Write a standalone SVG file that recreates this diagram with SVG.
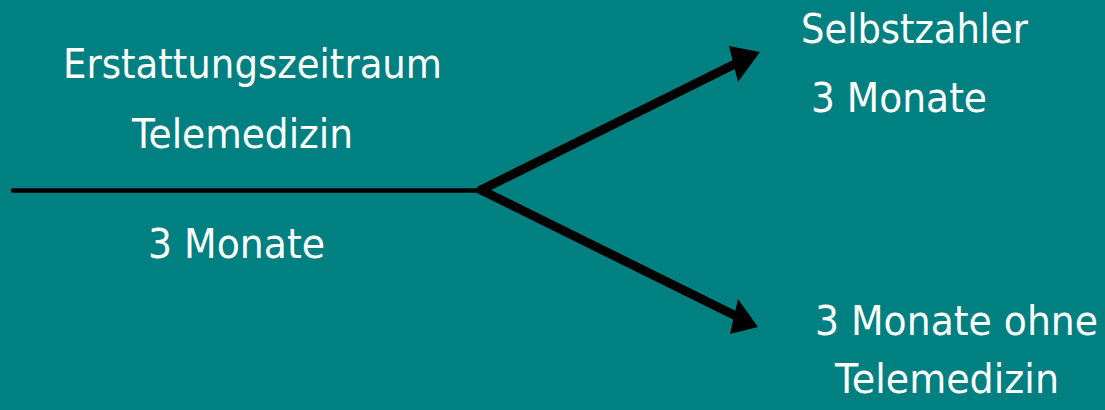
<svg xmlns="http://www.w3.org/2000/svg" width="1105" height="410" viewBox="0 0 1105 410">
<style>
.t{font-family:"DejaVu Sans","Liberation Sans",sans-serif;font-size:40px;fill:#ffffff}
.ln{stroke:#000;fill:none;stroke-linecap:round}
.hd{fill:#000}
</style>
<rect width="1105" height="410" fill="#008080"/>
<g id="source">
<text class="t" x="63" y="78" textLength="379" lengthAdjust="spacingAndGlyphs">Erstattungszeitraum</text>
<text class="t" x="132" y="148" textLength="221" lengthAdjust="spacingAndGlyphs">Telemedizin</text>
<text class="t" x="148" y="258" textLength="177" lengthAdjust="spacingAndGlyphs">3 Monate</text>
</g>
<g id="selbstzahler">
<text class="t" x="801" y="43" textLength="227" lengthAdjust="spacingAndGlyphs">Selbstzahler</text>
<text class="t" x="811" y="112" textLength="176" lengthAdjust="spacingAndGlyphs">3 Monate</text>
</g>
<g id="ohne">
<text class="t" x="815" y="335" textLength="283" lengthAdjust="spacingAndGlyphs">3 Monate ohne</text>
<text class="t" x="835" y="393" textLength="224" lengthAdjust="spacingAndGlyphs">Telemedizin</text>
</g>
<g id="connectors">
<line class="ln" x1="13" y1="190.5" x2="482" y2="190.5" stroke-width="4.5"/>
<line class="ln" x1="481" y1="190" x2="737" y2="63" stroke-width="9"/>
<polygon class="hd" points="760,52 729,46 738,82"/>
<line class="ln" x1="481" y1="190" x2="736" y2="316" stroke-width="9"/>
<polygon class="hd" points="758,327 738,299 730,334"/>
</g>
</svg>
